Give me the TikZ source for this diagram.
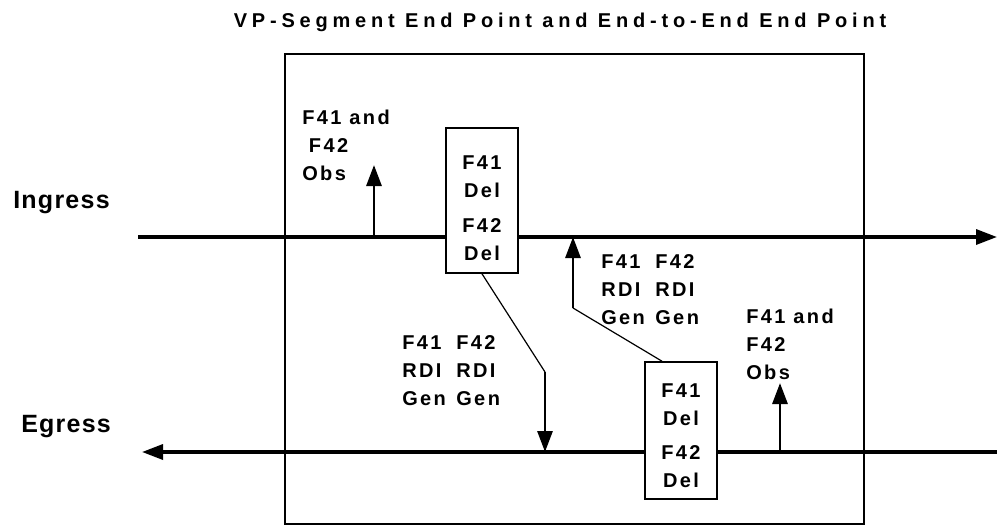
\documentclass[tikz,border=0pt]{standalone}
\usepackage{fontspec}
\setmainfont{Liberation Sans}
\newfontfamily\titlefont{Liberation Sans}[LetterSpace=24]
\newfontfamily\lblfont{Liberation Sans}[LetterSpace=12]
\newfontfamily\sidefont{Liberation Sans}[LetterSpace=5]
\usetikzlibrary{arrows.meta}
\newcommand\rdipair[2]{\makebox[40.5pt][l]{#1}#2}

\begin{document}
\begin{tikzpicture}[
  x=0.75pt, y=-0.75pt,
  frame/.style={rectangle, draw, line width=1.2pt, minimum width=434.25pt, minimum height=352.5pt},
  flow/.style={line width=2.5pt, -{Triangle[length=15.75pt, width=11.25pt]}},
  stem/.style={line width=2.2pt, -{Triangle[length=15.75pt, width=11.25pt]}},
  leader/.style={line width=0.9pt},
  delbox/.style={rectangle, draw, line width=1.2pt, fill=white, minimum width=54pt,
    align=center, inner sep=0pt, font=\lblfont\bfseries\fontsize{15}{21}\selectfont},
  lbl/.style={align=left, inner sep=0pt, anchor=west, font=\lblfont\bfseries\fontsize{15}{21}\selectfont},
  side/.style={anchor=base west, inner sep=0pt, font=\sidefont\bfseries\fontsize{18.75}{22}\selectfont}
]
  \useasboundingbox (0,0) rectangle (997,525);

  \node[anchor=base, inner sep=0pt, font=\titlefont\bfseries\fontsize{15}{18}\selectfont] (title) at (560,27)
    {VP-Segment End Point and End-to-End End Point};
  \node[frame] (frame) at (574.5,288.75) {};
  \node[side] (ing) at (13,208) {Ingress};
  \node[side] (egr) at (21,432) {Egress};

  % ingress and egress flows
  \coordinate (ins) at (138,237);
  \coordinate (ine) at (997,237);
  \coordinate (egs) at (997,452);
  \coordinate (ege) at (142,452);
  \draw[flow] (ins) -- (ine);
  \draw[flow] (egs) -- (ege);

  \node[delbox, minimum height=108.75pt] (b1) at (482,200.5) {\rule{0pt}{22pt}F41\\Del\\[5pt]F42\\Del};
  \node[delbox, minimum height=102.75pt] (b2) at (681,430.5) {\rule{0pt}{18pt}F41\\Del\\[5pt]F42\\Del};

  % observation points
  \coordinate (o1) at (374,237);
  \coordinate (o1t) at (374,165);
  \coordinate (o2) at (780,452);
  \coordinate (o2t) at (780,383);
  \draw[stem] (o1) -- (o1t);
  \draw[stem] (o2) -- (o2t);
  \node[lbl] (obs1) at (302,145) {F41 and\\\hspace*{5pt}F42\\Obs};
  \node[lbl] (obs2) at (746,344) {F41 and\\F42\\Obs};

  % RDI generation
  \coordinate (d1) at (545,372);
  \coordinate (t1) at (545,452);
  \coordinate (d2) at (573,308);
  \coordinate (t2) at (573,237);
  \draw[leader] (b1.south) -- (d1);
  \draw[stem] (d1) -- (t1);
  \draw[leader] ([xshift=-14.25pt]b2.north) -- (d2);
  \draw[stem] (d2) -- (t2);
  \node[lbl] (rdi1) at (402,371) {\rdipair{F41}{F42}\\\rdipair{RDI}{RDI}\\\rdipair{Gen}{Gen}};
  \node[lbl] (rdi2) at (601,290) {\rdipair{F41}{F42}\\\rdipair{RDI}{RDI}\\\rdipair{Gen}{Gen}};
\end{tikzpicture}
\end{document}
